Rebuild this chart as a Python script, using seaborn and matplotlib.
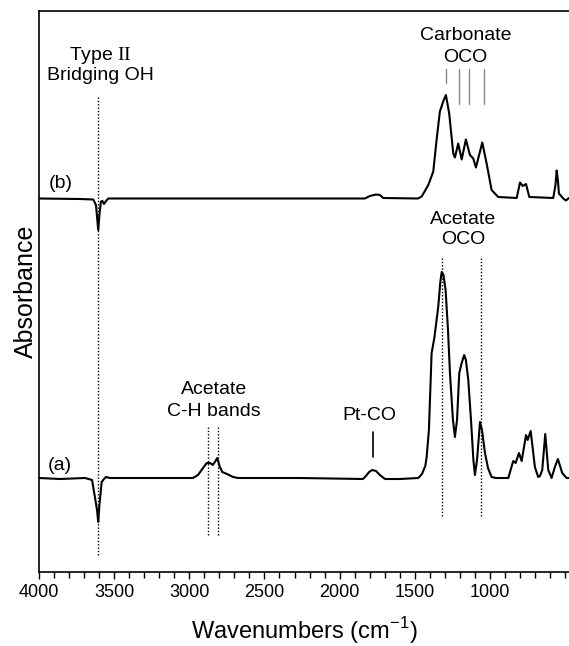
import numpy as np
import pandas as pd
import matplotlib
matplotlib.use("Agg")
import matplotlib.pyplot as plt
import seaborn as sns

# spectrum (a): wavenumber (cm-1) and absorbance (a.u.)
wn_a = [4000, 3860, 3694, 3647, 3627, 3614, 3606, 3598, 3583, 3568, 3554, 3528, 3262,
        2976, 2942, 2909, 2884, 2862, 2844, 2826, 2814, 2799, 2781, 2749, 2709, 2676, 2264,
        1845, 1825, 1804, 1783, 1758, 1732, 1698, 1599,
        1477, 1452, 1430, 1421, 1406, 1388, 1370, 1344, 1330, 1321, 1309, 1295, 1279, 1266, 1246, 1233,
        1219, 1204, 1188, 1171, 1160, 1144, 1126, 1110, 1100, 1086, 1066, 1053, 1033, 1013,
        989, 960, 878, 845, 829, 807, 789, 760, 749, 729, 714, 701, 679, 667, 652, 632,
        612, 590, 568, 548, 519, 490, 474]
abs_a = [0, -0.001, 0, -0.002, -0.020, -0.032, -0.044, -0.027, -0.004, -0.001, 0.001, 0, 0,
         0, 0.003, 0.010, 0.015, 0.015, 0.013, 0.017, 0.020, 0.012, 0.006, 0.004, 0.001, 0, 0,
         -0.001, 0.002, 0.006, 0.008, 0.007, 0.003, -0.001, -0.001,
         0, 0.004, 0.012, 0.021, 0.048, 0.125, 0.140, 0.171, 0.196, 0.206, 0.203, 0.188, 0.148, 0.105, 0.058, 0.041,
         0.058, 0.105, 0.115, 0.123, 0.118, 0.098, 0.058, 0.018, 0.003, 0.018, 0.056, 0.048, 0.025, 0.010,
         0.001, 0, 0, 0.017, 0.015, 0.025, 0.017, 0.043, 0.038, 0.047, 0.028, 0.011, 0.001, 0.002, 0.008, 0.044,
         0.008, 0, 0.011, 0.019, 0.005, 0, 0]

# spectrum (b)
wn_b = [4000, 3727, 3639, 3621, 3606, 3598, 3588, 3578, 3568, 3554, 3539, 2929, 2264,
        1832, 1799, 1758, 1732, 1710, 1479, 1454, 1410, 1377, 1355, 1333, 1311, 1293, 1271,
        1244, 1233, 1211, 1188, 1160, 1133, 1111, 1093, 1051, 1022, 989, 945, 822,
        800, 782, 760, 738, 579, 564, 556, 548, 541, 512, 494, 474]
abs_b = [0, -0.0005, -0.001, -0.0065, -0.0315, -0.0165, -0.003, -0.0025, -0.0055, -0.0025, 0, 0, 0,
         0, 0.0025, 0.004, 0.0035, 0.0005, 0, 0.002, 0.0135, 0.027, 0.0585, 0.087, 0.097, 0.1035, 0.085,
         0.045, 0.041, 0.055, 0.039, 0.059, 0.0435, 0.040, 0.031, 0.056, 0.035, 0.0085, 0.0015, 0.0005,
         0.016, 0.0125, 0.0145, 0.0015, 0.0005, 0.0135, 0.028, 0.0185, 0.005, 0, -0.002, 0.0005]
offset_b = 0.2795

# band markers
oh_band = 3606
ch_bands = [2878, 2811]
ptco_band = 1776
acetate_oco = [1317, 1062]
carbonate_oco = [1295, 1206, 1140, 1038]

df = pd.concat([
    pd.DataFrame({"wn": wn_a, "A": abs_a, "trace": "a"}),
    pd.DataFrame({"wn": wn_b, "A": np.array(abs_b) + offset_b, "trace": "b"}),
])

sns.set_style("ticks")
plt.rcParams["font.family"] = ["Liberation Sans", "DejaVu Sans"]
plt.rcParams["mathtext.fontset"] = "custom"
plt.rcParams["mathtext.rm"] = "Liberation Serif"
plt.rcParams["mathtext.sf"] = "Liberation Sans"
for k in ["text.color", "axes.labelcolor", "xtick.color", "ytick.color", "axes.edgecolor"]:
    plt.rcParams[k] = "black"

fig = plt.figure(figsize=(5.69, 6.46), dpi=100)
ax = fig.add_axes([39 / 569, 1 - 572 / 646, 1 - 39 / 569, (572 - 11) / 646])

for t in ["a", "b"]:
    sns.lineplot(data=df[df.trace == t], x="wn", y="A", sort=False, estimator=None,
                 color="black", lw=1.5, ax=ax)

dot = (0, (1, 1.4))
ax.plot([oh_band, oh_band], [-0.077, 0.383], color="black", lw=1, ls=dot)
for w in ch_bands:
    ax.plot([w, w], [-0.057, 0.051], color="black", lw=1, ls=dot)
for w in acetate_oco:
    ax.plot([w, w], [-0.038, 0.220], color="black", lw=1, ls=dot)
ax.plot([ptco_band, ptco_band], [0.021, 0.046], color="black", lw=1.2)
ax.plot([carbonate_oco[0]] * 2, [0.395, 0.409], color="#888888", lw=1)
for w in carbonate_oco[1:]:
    ax.plot([w, w], [0.374, 0.409], color="#888888", lw=1)

fs = 14
ax.text(3590, 0.423, r"Type $\mathrm{II}$", ha="center", va="center", fontsize=fs)
ax.text(3590, 0.403, "Bridging OH", ha="center", va="center", fontsize=fs)
ax.text(3935, 0.295, "(b)", ha="left", va="center", fontsize=fs)
ax.text(3945, 0.013, "(a)", ha="left", va="center", fontsize=fs)
ax.text(2836, 0.088, "Acetate", ha="center", va="center", fontsize=fs)
ax.text(2836, 0.066, "C-H bands", ha="center", va="center", fontsize=fs)
ax.text(1805, 0.063, "Pt-CO", ha="center", va="center", fontsize=fs)
ax.text(1180, 0.258, "Acetate", ha="center", va="center", fontsize=fs)
ax.text(1180, 0.238, "OCO", ha="center", va="center", fontsize=fs)
ax.text(1163, 0.443, "Carbonate", ha="center", va="center", fontsize=fs)
ax.text(1163, 0.421, "OCO", ha="center", va="center", fontsize=fs)

ax.set_xlim(4000, 474)
ax.set_ylim(-0.094, 0.467)
ax.set_xticks([4000, 3500, 3000, 2500, 2000, 1500, 1000])
ax.set_xticks(np.arange(4000, 474, -100), minor=True)
ax.tick_params(axis="x", which="major", length=5, width=1, labelsize=13, direction="out")
ax.tick_params(axis="x", which="minor", length=4, width=1, direction="out")
ax.set_yticks([])
ax.spines["right"].set_visible(False)
for s in ["left", "top", "bottom"]:
    ax.spines[s].set_linewidth(1.2)
ax.set_xlabel(r"Wavenumbers (cm$^{\mathsf{-1}}$)", fontsize=17, labelpad=10)
ax.set_ylabel("Absorbance", fontsize=18, labelpad=1)

fig.savefig("out.png", dpi=100)
